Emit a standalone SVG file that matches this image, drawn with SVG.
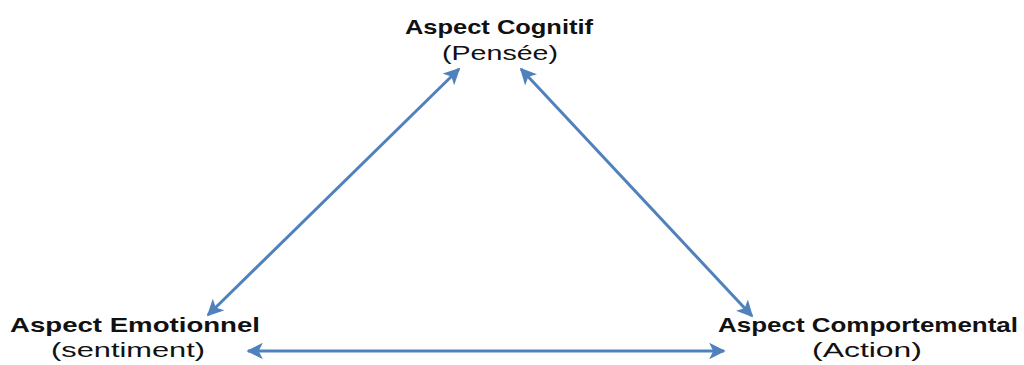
<svg xmlns="http://www.w3.org/2000/svg" width="1024" height="365" viewBox="0 0 1024 365">
<style>
.t{font-family:"Liberation Sans",Arial,sans-serif;font-size:21px;fill:#111;}
.b{font-weight:bold;}
.c{stroke:#4f81bd;stroke-width:3;fill:none;}
</style>
<defs>
<marker id="ah" viewBox="0 0 10 10" refX="9" refY="5" markerWidth="5.5" markerHeight="5.5" orient="auto-start-reverse" markerUnits="strokeWidth">
<path d="M0,0 L10,5 L0,10 L2.5,5 Z" fill="#4f81bd"/>
</marker>
</defs>
<rect width="1024" height="365" fill="#fff"/>
<g id="connectors">
<line class="c" x1="459" y1="69" x2="208" y2="315" marker-start="url(#ah)" marker-end="url(#ah)"/>
<line class="c" x1="521" y1="69" x2="752" y2="316" marker-start="url(#ah)" marker-end="url(#ah)"/>
<line class="c" x1="248" y1="351" x2="724" y2="351" marker-start="url(#ah)" marker-end="url(#ah)"/>
</g>
<g id="cognitif">
<text class="t b" x="405" y="34" textLength="188" lengthAdjust="spacingAndGlyphs">Aspect Cognitif</text>
<text class="t" x="442" y="60" textLength="116" lengthAdjust="spacingAndGlyphs">(Pensée)</text>
</g>
<g id="emotionnel">
<text class="t b" x="10" y="332" textLength="250" lengthAdjust="spacingAndGlyphs">Aspect Emotionnel</text>
<text class="t" x="51" y="357" textLength="154" lengthAdjust="spacingAndGlyphs">(sentiment)</text>
</g>
<g id="comportemental">
<text class="t b" x="718" y="332" textLength="300" lengthAdjust="spacingAndGlyphs">Aspect Comportemental</text>
<text class="t" x="812" y="357" textLength="110" lengthAdjust="spacingAndGlyphs">(Action)</text>
</g>
</svg>
